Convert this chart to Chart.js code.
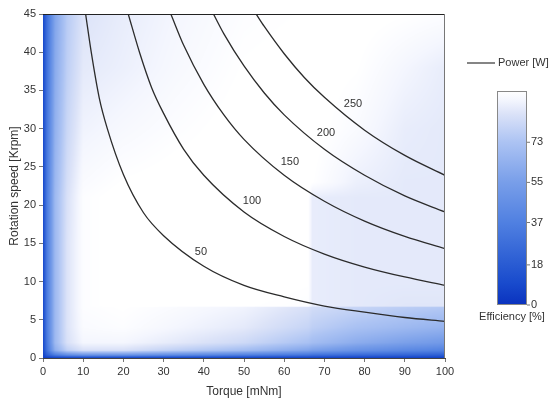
<!DOCTYPE html>
<html><head><meta charset="utf-8">
<script src="https://cdn.jsdelivr.net/npm/chart.js@4/dist/chart.umd.min.js"></script>
<style>html,body{margin:0;padding:0;background:#fff;overflow:hidden}</style>
</head><body>
<div style="width:558px;height:403px"><canvas id="c" width="558" height="403"></canvas></div>
<script>
// ---- Data ----
const torqueNodes = [0, 1, 3, 6, 10, 20, 33, 50, 66, 67, 78, 90, 100];      // mNm
const speedNodes  = [0, 0.4, 1, 2, 4, 6.6, 6.8, 10, 15, 21, 23, 30, 38, 45]; // Krpm
// efficiency [%], one row per speed node, one column per torque node
const efficiency = [
  [ 5,  5,  5,  5,  5,  5,  5,  5,  5,  5,  5,  5,  5],
  [ 6, 20, 35, 45, 50, 50, 45, 38, 32, 30, 26, 23, 20],
  [ 8, 30, 62, 78, 85, 85, 78, 70, 58, 56, 48, 42, 38],
  [ 8, 33, 68, 85, 92, 92, 88, 82, 72, 70, 62, 56, 52],
  [ 8, 35, 68, 86, 94, 95, 92, 88, 80, 78, 72, 68, 65],
  [ 8, 35, 68, 86, 95, 96, 94, 91, 85, 83, 80, 77, 75],
  [ 8, 35, 68, 86, 95, 97, 96, 96, 95, 89, 88, 87, 87],
  [ 8, 35, 68, 86, 95, 97, 97, 97, 96, 89, 88, 88, 88],
  [ 8, 35, 68, 86, 95, 97, 97, 97, 96, 89, 88, 88, 88],
  [ 8, 35, 68, 85, 95, 97, 97, 97, 96, 89, 88, 88, 88],
  [ 8, 34, 67, 84, 94, 96, 97, 97, 97, 96, 90, 88, 88],
  [ 8, 32, 64, 81, 91, 93, 95, 97, 97, 97, 94, 89, 88],
  [ 8, 30, 61, 78, 88, 90, 93, 96, 97, 97, 96, 92, 89],
  [ 8, 28, 58, 76, 86, 89, 92, 95, 96, 97, 97, 96, 95]
];
const powerLevels = [50, 100, 150, 200, 250]; // W
const curve50  = [[10.6,45],[12,40],[14,34],[16,30],[20,24],[25,19],[30,16],[40,12],[50,9.5],[60,8],[70,6.8],[80,6],[90,5.3],[100,4.8]];
const curve100 = [[21.2,45],[24,40],[27,35.4],[30,32],[35,27.3],[40,23.9],[50,19.1],[60,15.9],[70,13.6],[80,11.9],[90,10.6],[100,9.5]];
const curve150 = [[31.8,45],[35,40.9],[40,35.8],[45,31.8],[50,28.6],[60,23.9],[70,20.5],[80,17.9],[90,15.9],[100,14.3]];
const curve200 = [[42.4,45],[45,42.4],[50,38.2],[55,34.7],[60,31.8],[70,27.3],[80,23.9],[90,21.2],[100,19.1]];
const curve250 = [[53,45],[55,43.4],[60,39.8],[65,36.7],[70,34.1],[80,29.8],[90,26.5],[100,23.9]];
const labelTorque = [39.3, 52.0, 61.4, 70.4, 77.1];
const labelSpeed  = [13.9, 20.5, 25.6, 29.4, 33.2];
const colorbarTicks = [0, 18, 37, 55, 73];
const colorbarMax = 96;

// ---- colour map (efficiency -> colour) ----
const cmapStops = [
  [0,  [10, 50, 190]],
  [10, [25, 75, 205]],
  [20, [45, 95, 212]],
  [37, [80, 128, 225]],
  [55, [120, 158, 233]],
  [73, [172, 195, 243]],
  [86, [220, 227, 248]],
  [92, [244, 246, 254]],
  [96, [255, 255, 255]]
];
function cmap(v) {
  if (v <= cmapStops[0][0]) return cmapStops[0][1];
  for (let k = 1; k < cmapStops.length; k++) {
    if (v <= cmapStops[k][0]) {
      const [a, ca] = cmapStops[k-1], [b, cb] = cmapStops[k];
      const t = (v - a) / (b - a);
      return [0,1,2].map(i => ca[i] + (cb[i]-ca[i]) * t);
    }
  }
  return cmapStops[cmapStops.length-1][1];
}
function findCell(arr, v) {
  for (let k = 0; k < arr.length - 1; k++) if (v <= arr[k+1]) return k;
  return arr.length - 2;
}

const FONT = '"Liberation Sans", Arial, sans-serif';
const TXT = '#333';

const heatmapPlugin = {
  id: 'heatmap',
  beforeDatasetsDraw(chart) {
    const {ctx, chartArea: a, scales: {x, y}} = chart;
    const L = Math.round(a.left), T = Math.round(a.top);
    const w = Math.round(a.right) - L, h = Math.round(a.bottom) - T;
    const off = document.createElement('canvas');
    off.width = w; off.height = h;
    const octx = off.getContext('2d');
    const img = octx.createImageData(w, h);
    for (let py = 0; py < h; py++) {
      let sv = y.getValueForPixel(T + py + 0.5);
      sv = Math.max(0, Math.min(45, sv));
      const j = findCell(speedNodes, sv);
      const tv = (sv - speedNodes[j]) / (speedNodes[j+1] - speedNodes[j]);
      for (let px = 0; px < w; px++) {
        let xv = x.getValueForPixel(L + px + 0.5);
        xv = Math.max(0, Math.min(100, xv));
        const i = findCell(torqueNodes, xv);
        const u = (xv - torqueNodes[i]) / (torqueNodes[i+1] - torqueNodes[i]);
        const v = (1-u)*(1-tv)*efficiency[j][i] + u*(1-tv)*efficiency[j][i+1]
                + (1-u)*tv*efficiency[j+1][i] + u*tv*efficiency[j+1][i+1];
        const c = cmap(v);
        const o = (py * w + px) * 4;
        img.data[o] = c[0]; img.data[o+1] = c[1]; img.data[o+2] = c[2]; img.data[o+3] = 255;
      }
    }
    octx.putImageData(img, 0, 0);
    ctx.drawImage(off, L, T);
  },
  afterDatasetsDraw(chart) {
    const {ctx, chartArea: a, scales: {x, y}} = chart;
    ctx.save();
    // frame
    ctx.lineWidth = 1;
    ctx.strokeStyle = '#222';
    ctx.beginPath(); ctx.moveTo(a.left, a.top + 0.5); ctx.lineTo(a.right, a.top + 0.5); ctx.stroke();
    ctx.strokeStyle = '#777';
    ctx.beginPath(); ctx.moveTo(a.right - 0.5, a.top); ctx.lineTo(a.right - 0.5, a.bottom); ctx.stroke();
    // contour labels
    ctx.fillStyle = TXT;
    ctx.font = '11px ' + FONT;
    ctx.textAlign = 'center'; ctx.textBaseline = 'middle';
    powerLevels.forEach((p, k) => {
      ctx.fillText(String(p), x.getPixelForValue(labelTorque[k]), y.getPixelForValue(labelSpeed[k]));
    });
    // legend
    const lx = a.right + 22, ly = 63;
    ctx.strokeStyle = '#333'; ctx.lineWidth = 1.2;
    ctx.beginPath(); ctx.moveTo(lx, ly); ctx.lineTo(lx + 28, ly); ctx.stroke();
    ctx.textAlign = 'left';
    ctx.fillText('Power [W]', lx + 31, ly);
    // colorbar
    const cbL = a.right + 52, cbW = 30, cbTop = 91, cbBot = 305;
    const grad = ctx.createLinearGradient(0, cbBot, 0, cbTop);
    cmapStops.forEach(([v, c]) => {
      grad.addColorStop(Math.min(1, v / colorbarMax), 'rgb(' + c.map(Math.round).join(',') + ')');
    });
    ctx.fillStyle = grad;
    ctx.fillRect(cbL, cbTop, cbW, cbBot - cbTop);
    ctx.strokeStyle = '#888'; ctx.lineWidth = 1;
    ctx.strokeRect(cbL + 0.5, cbTop + 0.5, cbW - 1, cbBot - cbTop - 1);
    ctx.fillStyle = TXT;
    ctx.textAlign = 'left';
    colorbarTicks.forEach(v => {
      const ty = cbBot - (v / colorbarMax) * (cbBot - cbTop);
      ctx.strokeStyle = '#777';
      ctx.beginPath(); ctx.moveTo(cbL + cbW, ty); ctx.lineTo(cbL + cbW + 3, ty); ctx.stroke();
      ctx.fillText(String(v), cbL + cbW + 4, ty);
    });
    ctx.textAlign = 'center';
    ctx.fillText('Efficiency [%]', cbL + cbW / 2, 317);
    ctx.restore();
  }
};

const curves = [curve50, curve100, curve150, curve200, curve250];
const datasets = curves.map((cv, k) => ({
  label: 'Power [W] ' + powerLevels[k],
  data: cv.map(p => ({x: p[0], y: p[1]})),
  showLine: true,
  borderColor: '#2b2b2b',
  borderWidth: 1.3,
  pointRadius: 0,
  cubicInterpolationMode: 'monotone',
  fill: false
}));

new Chart(document.getElementById('c'), {
  type: 'scatter',
  data: { datasets },
  options: {
    responsive: false,
    animation: false,
    devicePixelRatio: 1,
    layout: { padding: { left: 0, right: 113, top: 14, bottom: 0 } },
    plugins: { legend: { display: false }, tooltip: { enabled: false } },
    scales: {
      x: {
        type: 'linear', min: 0, max: 100,
        afterFit(s) { s.height = 45; },
        ticks: { stepSize: 10, color: TXT, font: { family: FONT, size: 11 }, padding: 3, maxRotation: 0 },
        grid: { drawOnChartArea: false, drawTicks: true, tickLength: 4, color: '#777' },
        border: { display: true, color: '#444' },
        title: { display: true, text: 'Torque [mNm]', color: TXT, font: { family: FONT, size: 12 }, padding: { top: 4, bottom: 4 } }
      },
      y: {
        type: 'linear', min: 0, max: 45,
        afterFit(s) { s.width = 43; },
        ticks: { stepSize: 5, color: TXT, font: { family: FONT, size: 11 }, padding: 3 },
        grid: { drawOnChartArea: false, drawTicks: true, tickLength: 4, color: '#777' },
        border: { display: true, color: '#444' },
        title: { display: true, text: 'Rotation speed [Krpm]', color: TXT, font: { family: FONT, size: 12 }, padding: { top: 7, bottom: 4 } }
      }
    }
  },
  plugins: [heatmapPlugin]
});
</script>
</body></html>
